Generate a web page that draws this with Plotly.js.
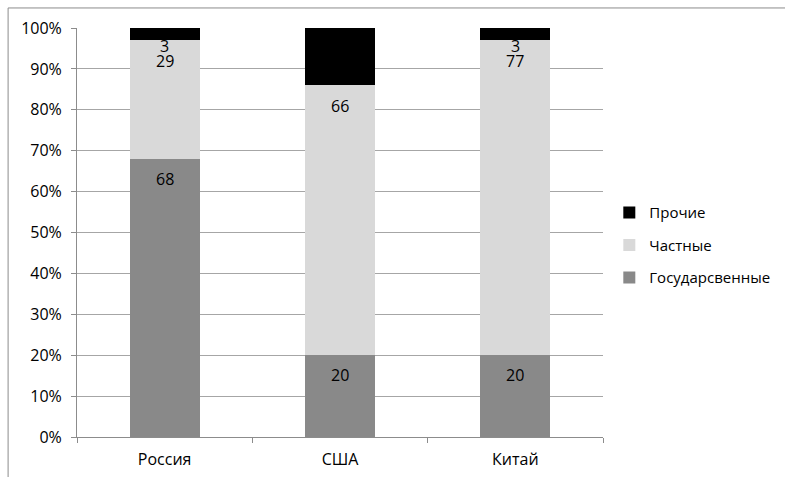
<!DOCTYPE html>
<html>
<head>
<meta charset="utf-8">
<script src="https://cdn.plot.ly/plotly-3.0.1.min.js"></script>
<style>
html,body{margin:0;padding:0;background:#fff;}
#chart{width:785px;height:477px;}
</style>
</head>
<body>
<div id="chart"></div>
<script>
var categories = ['Россия', 'США', 'Китай'];
var stateVals = [68, 20, 20];
var privateVals = [29, 66, 77];
var otherVals = [3, 14, 3];
var stateLabels = ['68', '20', '20'];
var privateLabels = ['29', '66', '77'];
var otherLabels = ['3', '', '3'];
var seriesNames = ['Государсвенные', 'Частные', 'Прочие'];
var yTickVals = [0, 10, 20, 30, 40, 50, 60, 70, 80, 90, 100];
var yTickText = ['0%', '10%', '20%', '30%', '40%', '50%', '60%', '70%', '80%', '90%', '100%'];

var FONT = 'Open Sans, Liberation Sans, sans-serif';
var FS = 16;
var series = [
  {name: seriesNames[0], y: stateVals, labels: stateLabels, color: '#898989', rank: 3, shift: -20},
  {name: seriesNames[1], y: privateVals, labels: privateLabels, color: '#d9d9d9', rank: 2, shift: -21},
  {name: seriesNames[2], y: otherVals, labels: otherLabels, color: '#000000', rank: 1, shift: -18}
];

var traces = series.map(function (s, i) {
  return {
    type: 'bar', x: categories, y: s.y, name: s.name,
    marker: {color: s.color, line: {width: 0}},
    width: 0.4, legendgroup: 'g' + i, legendrank: s.rank, hoverinfo: 'skip'
  };
});

// data labels at inside-end of each segment
var annotations = [];
var cum = categories.map(function () { return 0; });
series.forEach(function (s) {
  s.y.forEach(function (v, j) {
    cum[j] += v;
    if (s.labels[j] !== '') {
      annotations.push({
        x: categories[j], y: cum[j], xref: 'x', yref: 'y',
        text: s.labels[j], showarrow: false, yshift: s.shift, borderpad: 0,
        font: {family: FONT, size: FS, color: '#000'}
      });
    }
  });
});

var layout = {
  width: 785, height: 477,
  margin: {l: 77, r: 182, t: 28, b: 40, autoexpand: false},
  paper_bgcolor: '#fff', plot_bgcolor: '#fff',
  barmode: 'stack',
  font: {family: FONT, size: FS, color: '#000'},
  showlegend: true,
  legend: {
    x: 1.012, xanchor: 'left', y: 0.469, yanchor: 'middle',
    traceorder: 'grouped', tracegroupgap: 10,
    font: {family: FONT, size: 15, color: '#000'},
    bgcolor: 'rgba(0,0,0,0)'
  },
  xaxis: {
    type: 'category', range: [-0.5, 2.5],
    showline: true, linecolor: '#8c8c8c', linewidth: 1,
    ticks: 'outside', tickson: 'boundaries', ticklen: 5, tickcolor: '#8c8c8c',
    showgrid: false, zeroline: false, fixedrange: true, ticklabelstandoff: 8,
    tickfont: {family: FONT, size: FS, color: '#000'}
  },
  yaxis: {
    range: [0, 100], tickvals: yTickVals, ticktext: yTickText,
    showline: true, linecolor: '#8c8c8c', linewidth: 1,
    ticks: 'outside', ticklen: 5, tickcolor: '#8c8c8c',
    showgrid: true, gridcolor: '#a6a6a6', gridwidth: 1,
    zeroline: false, fixedrange: true, ticklabelstandoff: 6,
    tickfont: {family: FONT, size: FS, color: '#000'}
  },
  annotations: annotations,
  shapes: [
    {type: 'line', xref: 'paper', yref: 'paper', x0: -0.131, x1: 1.4, y0: 1.049, y1: 1.049,
     line: {color: '#8c8c8c', width: 1}},
    {type: 'line', xref: 'paper', yref: 'paper', x0: -0.131, x1: -0.131, y0: -0.2, y1: 1.049,
     line: {color: '#8c8c8c', width: 1}}
  ]
};

Plotly.newPlot('chart', traces, layout, {displayModeBar: false, staticPlot: true});
</script>
</body>
</html>
